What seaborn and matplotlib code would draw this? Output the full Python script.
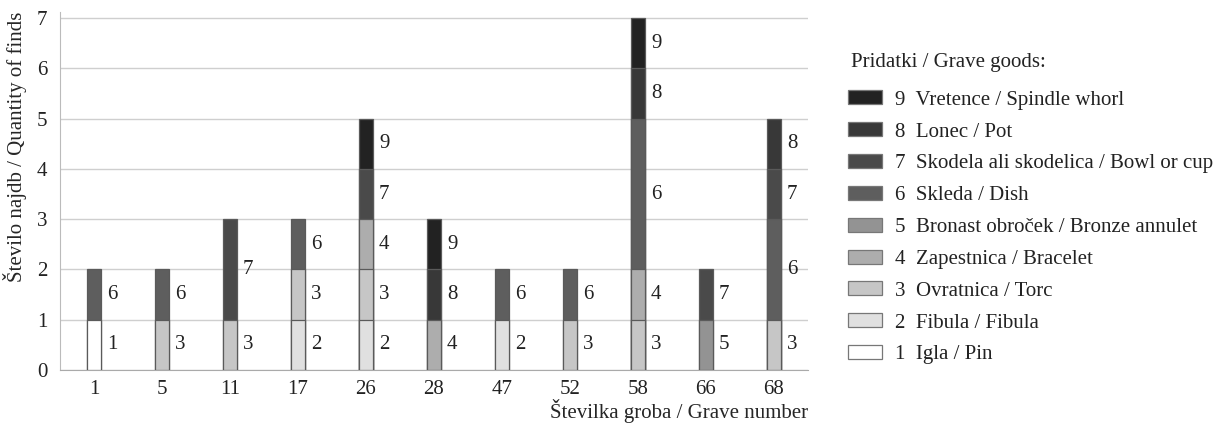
import matplotlib
matplotlib.use("Agg")
import matplotlib.pyplot as plt
import seaborn as sns
import pandas as pd
import numpy as np
from matplotlib.patches import Patch

# ---- data ----
graves = ["1", "5", "11", "17", "26", "28", "47", "52", "58", "66", "68"]
# types found in each grave (bottom to top) and their counts
grave_types = [[1, 6], [3, 6], [3, 7], [2, 3, 6], [2, 3, 4, 7, 9], [4, 8, 9],
               [2, 6], [3, 6], [3, 4, 6, 8, 9], [5, 7], [3, 6, 7, 8]]
grave_counts = [[1, 1], [1, 1], [1, 2], [1, 1, 1], [1, 1, 1, 1, 1], [1, 1, 1],
                [1, 1], [1, 1], [1, 1, 3, 1, 1], [1, 1], [1, 2, 1, 1]]
type_ids = [1, 2, 3, 4, 5, 6, 7, 8, 9]
type_names = ["Igla / Pin", "Fibula / Fibula", "Ovratnica / Torc",
              "Zapestnica / Bracelet", "Bronast obroček / Bronze annulet",
              "Skleda / Dish", "Skodela ali skodelica / Bowl or cup",
              "Lonec / Pot", "Vretence / Spindle whorl"]
type_colors = ["#ffffff", "#e0e0e0", "#c6c6c6", "#adadad", "#939393",
               "#5e5e5e", "#4a4a4a", "#383838", "#222222"]
legend_title = "Pridatki / Grave goods:"

# ---- build long table with cumulative tops ----
rows = []
for g, ts, cs in zip(graves, grave_types, grave_counts):
    b = 0
    for t, c in zip(ts, cs):
        rows.append({"grave": g, "type": str(t), "bottom": b, "top": b + c})
        b += c
df = pd.DataFrame(rows)

sns.set_style("white")
plt.rcParams["font.family"] = ["Liberation Serif", "DejaVu Serif"]
plt.rcParams["text.color"] = "#222222"

fig = plt.figure(figsize=(12.19, 4.24), dpi=100)
ax = fig.add_axes([60 / 1219, 1 - 370 / 424, (808 - 60) / 1219, (370 - 12) / 424])

palette = {str(t): c for t, c in zip(type_ids, type_colors)}
hue_order = [str(t) for t in reversed(type_ids)]
sns.barplot(data=df, x="grave", y="top", hue="type", order=graves,
            hue_order=hue_order, palette=palette, dodge=False, width=0.22,
            errorbar=None, edgecolor="#5a5a5a", linewidth=0.9, legend=False,
            saturation=1, ax=ax, zorder=3)

fs = 15
for _, r in df.iterrows():
    i = graves.index(r["grave"])
    ax.text(i + 0.11 + 0.08, (r["bottom"] + r["top"]) / 2, r["type"],
            ha="left", va="center", fontsize=fs, color="#222222", zorder=4)

ax.set_ylim(0, 7.12)
ax.set_xlim(-0.5, len(graves) - 0.5)
ax.set_yticks(range(0, 8))
ax.yaxis.grid(True, color="#cfcfcf", linewidth=1)
ax.set_axisbelow(True)
ax.set_xticks(np.arange(-0.5, len(graves), 1), minor=True)
ax.tick_params(axis="x", which="minor", length=7, width=1, color="#aaaaaa", direction="out")
ax.tick_params(axis="x", which="major", length=0, pad=7, labelsize=fs, labelcolor="#222222")
ax.tick_params(axis="y", which="major", length=0, pad=9, labelsize=fs, labelcolor="#222222")
for s in ["top", "right"]:
    ax.spines[s].set_visible(False)
ax.spines["bottom"].set_color("#aaaaaa")
ax.spines["left"].set_color("#bbbbbb")
ax.set_xlabel("Številka groba / Grave number", loc="right", fontsize=fs, labelpad=0)
ax.set_ylabel("Število najdb / Quantity of finds", loc="top", fontsize=fs, labelpad=7)

handles = [Patch(facecolor=type_colors[k], edgecolor="#777777", linewidth=0.9)
           for k in reversed(range(len(type_ids)))]
labels = [f"{type_ids[k]}  {type_names[k]}" for k in reversed(range(len(type_ids)))]
fig.text(851 / 1219, 1 - 62 / 424, legend_title, ha="left", va="center",
         fontsize=fs, color="#222222")
leg = fig.legend(handles, labels, loc="upper left",
                 bbox_to_anchor=(838 / 1219, 1 - 80 / 424), frameon=False,
                 fontsize=fs, handlelength=1.6, handleheight=0.66,
                 handletextpad=0.65, labelspacing=0.6, borderpad=0)
for t in leg.get_texts():
    t.set_color("#222222")

fig.savefig("out.png", dpi=100)
